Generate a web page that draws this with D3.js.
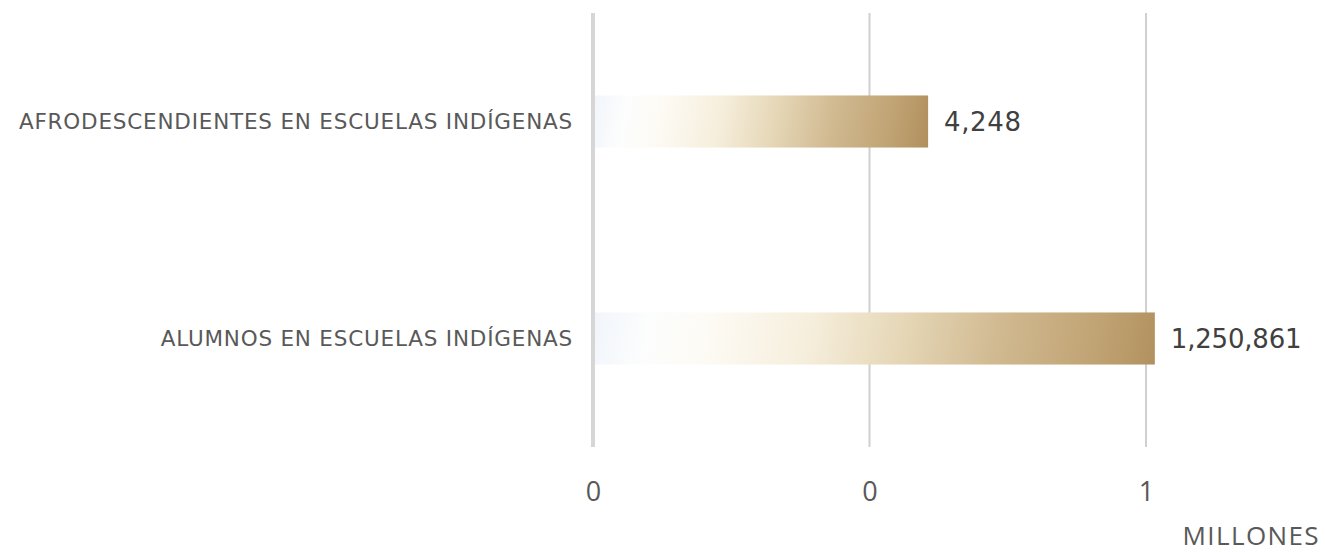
<!DOCTYPE html>
<html><head><meta charset="utf-8">
<script src="https://cdn.jsdelivr.net/npm/d3@7"></script>
<style>body{margin:0;background:#fff;}svg{display:block;}</style>
</head><body>
<script>
const categories = ["AFRODESCENDIENTES EN ESCUELAS INDÍGENAS", "ALUMNOS EN ESCUELAS INDÍGENAS"];
const barValues = [0.606, 1.016]; // bar lengths in millions, as drawn against the axis
const valueLabels = ["4,248", "1,250,861"];
const tickValues = [0, 0.5, 1];
const axisTitle = "MILLONES";

const W = 1325, H = 552;
const svg = d3.select("body").append("svg").attr("width", W).attr("height", H);

const x = d3.scaleLinear().domain([0, 1]).range([593, 1146]);
const y = d3.scaleBand().domain(categories).range([13, 447]).paddingInner(0.76).paddingOuter(0.38);

const defs = svg.append("defs");
const stops = [[0, "#f1f5fb"], [0.1, "#fcfdfd"], [0.2, "#fdfbf5"], [0.38, "#f6eedc"], [0.55, "#e4d5b4"], [0.72, "#cfb78e"], [0.88, "#c0a373"], [1, "#b08e5c"]];
categories.forEach((c, i) => {
  const L = x(barValues[i]) - x(0);
  const g = defs.append("linearGradient").attr("id", "g" + i).attr("gradientUnits", "userSpaceOnUse")
    .attr("x1", x(0)).attr("y1", y(c)).attr("x2", x(barValues[i])).attr("y2", y(c) + L * 0.18);
  stops.forEach(([o, col]) => g.append("stop").attr("offset", o).attr("stop-color", col));
});

// gridlines
svg.append("g").selectAll("line").data(tickValues.slice(1)).join("line")
  .attr("x1", d => x(d)).attr("x2", d => x(d)).attr("y1", 13).attr("y2", 447)
  .attr("stroke", "#d0d0d0").attr("stroke-width", 2);

// bars
svg.append("g").selectAll("rect").data(categories).join("rect")
  .attr("x", x(0)).attr("y", d => y(d)).attr("height", y.bandwidth())
  .attr("width", (d, i) => x(barValues[i]) - x(0))
  .attr("fill", (d, i) => `url(#g${i})`);

// zero axis line
svg.append("line").attr("x1", x(0)).attr("x2", x(0)).attr("y1", 13).attr("y2", 447)
  .attr("stroke", "#d6d6d6").attr("stroke-width", 4);

// category labels
svg.append("g").selectAll("text").data(categories).join("text")
  .attr("x", 573).attr("y", d => y(d) + y.bandwidth() / 2)
  .attr("dy", "0.35em").attr("text-anchor", "end")
  .attr("font-family", "DejaVu Sans").attr("font-size", 21.5).attr("fill", "#595959")
  .attr("letter-spacing", 0.8)
  .text(d => d);

// value labels
svg.append("g").selectAll("text").data(categories).join("text")
  .attr("x", (d, i) => x(barValues[i]) + 16).attr("y", d => y(d) + y.bandwidth() / 2)
  .attr("dy", "0.35em")
  .attr("font-family", "DejaVu Sans").attr("font-size", 26).attr("fill", "#404040")
  .attr("letter-spacing", (d, i) => i === 0 ? 0.6 : -0.2)
  .text((d, i) => valueLabels[i]);

// x axis ticks
const axis = d3.axisBottom(x).tickValues(tickValues).tickFormat(d => String(Math.floor(d))).tickSize(0).tickPadding(0);
const ag = svg.append("g").attr("transform", "translate(0,492)").call(axis);
ag.select(".domain").remove();
ag.selectAll("text").attr("dy", "0.35em").attr("y", 0)
  .attr("font-family", "Open Sans").attr("font-size", 27).attr("fill", "#595959");

svg.append("text").attr("x", 1320).attr("y", 545).attr("text-anchor", "end")
  .attr("font-family", "Open Sans").attr("font-size", 26).attr("fill", "#595959")
  .attr("letter-spacing", 1.4)
  .text(axisTitle);
</script>
</body></html>
